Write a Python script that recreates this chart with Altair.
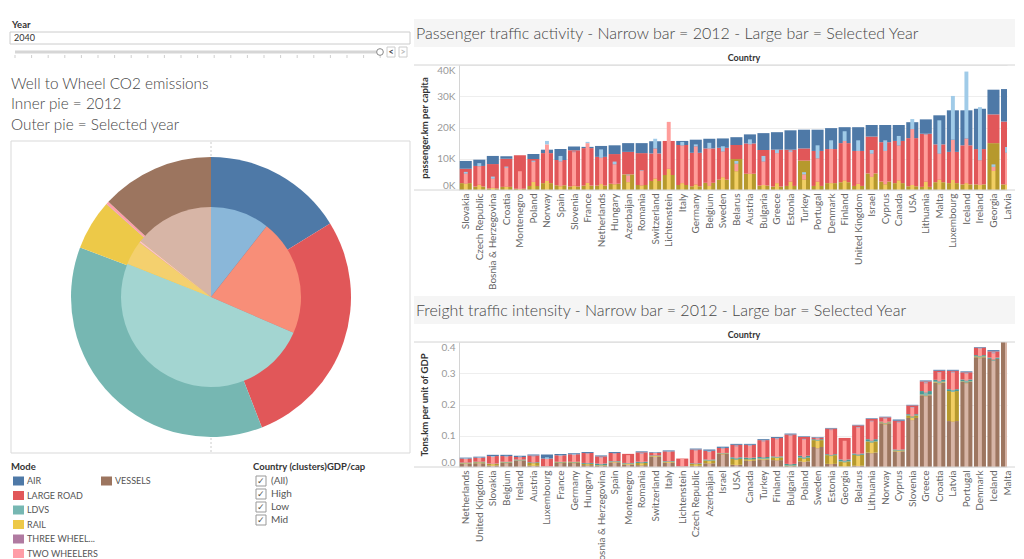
import altair as alt
import pandas as pd

FONT = "Lato"

# ---------------- data ----------------
modes = ["AIR", "LARGE ROAD", "LDVS", "RAIL", "THREE WHEELERS", "TWO WHEELERS", "VESSELS"]
pie_2040 = [16.2, 27.9, 36.7, 5.8, 0.05, 0.3, 13.1]   # % of WTW CO2, selected year
pie_2012 = [10.6, 20.9, 49.5, 4.3, 0.05, 0.3, 14.3]   # % of WTW CO2, 2012

countries_p = ["Slovakia", "Czech Republic", "Bosnia & Herzegovina", "Croatia", "Montenegro", "Poland",
               "Norway", "Spain", "Slovenia", "France", "Netherlands", "Hungary", "Azerbaijan", "Romania",
               "Switzerland", "Lichtenstein", "Italy", "Germany", "Belgium", "Sweden", "Belarus", "Austria",
               "Bulgaria", "Greece", "Estonia", "Turkey", "Portugal", "Denmark", "Finland", "United Kingdom",
               "Israel", "Cyprus", "Canada", "USA", "Lithuania", "Malta", "Luxembourg", "Iceland", "Ireland",
               "Georgia", "Latvia"]
# passenger.km per capita (thousands)
rail_p40 = [2.2, 1.1, 0.5, 1.0, 0.4, 1.3, 2.2, 1.5, 1.1, 1.4, 1.4, 2.0, 5.0, 1.6, 2.9, 4.8, 1.6, 1.2, 2.3, 3.3,
            9.9, 5.2, 1.4, 1.1, 1.3, 9.4, 1.3, 2.2, 2.5, 1.3, 5.3, 2.7, 2.2, 1.2, 1.0, 2.5, 2.2, 1.8, 1.8, 15.0, 1.8]
road_p40 = [4.6, 6.6, 7.8, 9.0, 10.7, 8.6, 9.6, 8.1, 11.6, 12.0, 9.2, 9.5, 7.2, 10.2, 8.8, 10.9, 12.8, 10.7, 11.0, 10.2,
            4.5, 9.7, 11.4, 11.8, 11.6, 3.9, 11.2, 10.9, 12.5, 11.2, 11.8, 12.6, 13.5, 15.4, 17.0, 12.1, 10.0, 12.5, 11.3, 9.2, 20.1]
air_p40 = [2.5, 2.0, 2.6, 0.8, 0.0, 1.6, 1.1, 3.5, 1.2, 0.4, 3.5, 2.8, 2.8, 3.2, 3.9, 0.0, 1.3, 4.2, 3.1, 3.0,
           2.5, 2.9, 5.4, 5.6, 6.2, 6.0, 6.8, 6.7, 5.1, 7.6, 3.7, 5.5, 5.1, 5.1, 4.6, 9.3, 13.3, 11.2, 12.9, 7.9, 10.4]
rail_p12 = [2.0, 1.7, 0.7, 1.1, 0.3, 2.6, 2.9, 1.2, 1.4, 2.3, 1.9, 1.8, 2.5, 1.4, 3.7, 6.8, 2.2, 1.8, 1.3, 4.1,
            6.0, 5.2, 1.6, 2.2, 2.7, 3.3, 2.7, 2.2, 3.1, 2.0, 4.2, 1.8, 3.1, 1.6, 2.7, 3.3, 3.2, 2.2, 1.6, 6.1, 1.8]
road_p12 = [3.2, 5.9, 2.9, 6.0, 5.7, 6.4, 11.7, 7.9, 10.7, 12.7, 8.4, 6.4, 2.2, 4.7, 9.6, 15.0, 12.0, 12.2, 12.0, 8.2,
            2.4, 9.4, 7.5, 9.6, 9.5, 1.7, 7.4, 10.9, 12.6, 10.5, 7.4, 10.7, 11.1, 17.9, 14.9, 8.3, 12.9, 14.3, 7.9, 1.3, 10.1]
air_p12 = [0.6, 1.0, 0.7, 0.4, 0.0, 0.4, 1.1, 1.8, 0.2, 0.4, 2.7, 0.9, 0.2, 0.2, 3.1, 0.0, 1.2, 0.6, 1.8, 1.7,
           0.9, 1.6, 1.8, 1.1, 0.5, 0.7, 4.2, 2.8, 3.1, 3.4, 1.2, 3.4, 3.1, 3.2, 0.2, 10.7, 14.0, 21.4, 17.0, 0.8, 1.9]

countries_f = ["Netherlands", "United Kingdom", "Slovakia", "Belgium", "Ireland", "Austria", "Luxembourg", "France",
               "Germany", "Hungary", "Bosnia & Herzegovina", "Spain", "Montenegro", "Romania", "Switzerland", "Italy",
               "Lichtenstein", "Czech Republic", "Azerbaijan", "Israel", "USA", "Canada", "Turkey", "Finland",
               "Bulgaria", "Poland", "Sweden", "Estonia", "Georgia", "Belarus", "Lithuania", "Norway", "Cyprus",
               "Slovenia", "Greece", "Croatia", "Latvia", "Portugal", "Denmark", "Iceland", "Malta"]
# tons.km per unit of GDP (in thousandths)
ves_f40 = [10, 12, 5, 13, 21, 4, 1, 13, 13, 6, 4, 15, 8, 6, 33, 14, 1, 4, 12, 42, 7, 20, 24, 22, 3, 18, 64, 10, 1, 4,
           46, 140, 50, 157, 230, 270, 147, 272, 351, 346, 520]
rail_f40 = [2, 3, 5, 2, 1, 9, 0, 2, 2, 4, 2, 2, 3, 7, 2, 3, 0, 6, 9, 2, 19, 5, 3, 9, 2, 12, 22, 28, 17, 35,
            36, 3, 3, 8, 2, 3, 96, 2, 3, 0, 0]
ldv_f40 = [2, 2, 1, 2, 2, 2, 1, 2, 2, 3, 5, 2, 2, 4, 2, 2, 1, 2, 3, 1, 5, 5, 5, 3, 5, 6, 3, 3, 6, 4,
           7, 2, 3, 4, 11, 6, 6, 6, 4, 4, 0]
road_f40 = [13, 13, 24, 18, 8, 22, 25, 21, 24, 32, 23, 26, 29, 30, 9, 31, 25, 44, 28, 16, 40, 41, 54, 59, 94, 60, 5, 82, 69, 90,
            65, 14, 92, 28, 31, 29, 59, 23, 24, 20, 0]
air_f40 = [3, 3, 4, 4, 4, 3, 13, 4, 3, 3, 3, 3, 0, 3, 2, 3, 0, 3, 4, 4, 3, 3, 3, 3, 3, 2, 2, 2, 0, 2,
           2, 2, 4, 2, 3, 3, 3, 3, 2, 4, 0]
ves_f12 = [10, 12, 4, 12, 20, 4, 1, 12, 12, 5, 3, 14, 7, 5, 32, 13, 0, 3, 11, 40, 6, 19, 22, 21, 2, 16, 60, 9, 0, 3,
           44, 136, 48, 150, 226, 265, 145, 268, 348, 340, 510]
rail_f12 = [2, 3, 5, 2, 1, 8, 0, 2, 2, 4, 2, 2, 3, 7, 3, 3, 0, 6, 8, 2, 17, 5, 3, 8, 2, 10, 24, 26, 15, 33,
            34, 3, 3, 8, 2, 3, 95, 2, 3, 0, 0]
ldv_f12 = [2, 2, 1, 2, 2, 2, 1, 2, 2, 3, 4, 2, 2, 3, 2, 2, 1, 2, 3, 2, 5, 5, 5, 3, 4, 5, 3, 3, 5, 4,
           6, 2, 3, 4, 10, 6, 6, 6, 4, 4, 0]
road_f12 = [12, 12, 22, 17, 8, 20, 24, 20, 23, 30, 21, 24, 26, 28, 8, 30, 25, 42, 26, 15, 38, 39, 52, 57, 92, 57, 5, 80, 64, 86,
            62, 14, 88, 28, 30, 28, 56, 23, 24, 20, 0]
air_f12 = [2, 2, 3, 3, 3, 2, 5, 3, 3, 2, 2, 2, 0, 2, 2, 2, 0, 2, 3, 3, 3, 3, 3, 3, 2, 2, 2, 2, 0, 2,
           2, 2, 3, 2, 3, 2, 3, 2, 2, 3, 0]

legend_col1 = ["AIR", "LARGE ROAD", "LDVS", "RAIL", "THREE WHEELERS", "TWO WHEELERS"]
legend_labels = {"THREE WHEELERS": "THREE WHEEL..."}
filter_items = ["(All)", "High", "Low", "Mid"]

# ---------------- styles ----------------
pie_outer_col = ["#4e79a7", "#e15759", "#76b7b2", "#edc948", "#b07aa1", "#ff9da7", "#9c755f"]
pie_inner_col = ["#8ab7d9", "#f88e78", "#a3d5d1", "#f4d06e", "#d4a6c8", "#fbc1cf", "#d7b5a6"]
wide_col = {"AIR": "#4e79a7", "LARGE ROAD": "#e15759", "LDVS": "#499894", "RAIL": "#b6992d", "VESSELS": "#9d7660"}
narrow_col = {"AIR": "#a0cbe8", "LARGE ROAD": "#ff9d9a", "LDVS": "#86bcb6", "RAIL": "#f1ce63", "VESSELS": "#d7b5a6"}
TITLE_COL = "#454545"

X = lambda f: alt.X(f, scale=None, axis=None)
Y = lambda f: alt.Y(f, scale=None, axis=None)
one = pd.DataFrame({"a": [0]})


def tlayer(rows, size, color="#555555", weight="normal", align="left"):
    df = pd.DataFrame(rows, columns=["px", "py", "t"])
    return alt.Chart(df).mark_text(align=align, baseline="middle", fontSize=size, color=color,
                                   fontWeight=weight, font=FONT).encode(x=X("px:Q"), y=Y("py:Q"), text="t:N")


def rlayer(rows, fill, stroke=None, sw=1):
    df = pd.DataFrame(rows, columns=["x0", "y0", "x1", "y1"])
    kw = dict(fill=fill)
    if stroke:
        kw.update(stroke=stroke, strokeWidth=sw)
    return alt.Chart(df).mark_rect(**kw).encode(x=X("x0:Q"), x2="x1:Q", y=Y("y0:Q"), y2="y1:Q")


# ---------------- left panel (origin aligned with the passenger plot top) ----------------
cx, cy = 203, 232
pie40 = pd.DataFrame({"mode": modes, "share": pie_2040, "ord": list(range(len(modes)))})
pie12 = pd.DataFrame({"mode": modes, "share": pie_2012, "ord": list(range(len(modes)))})

outer = alt.Chart(pie40).mark_arc(outerRadius=140).encode(
    theta=alt.Theta("share:Q", stack=True), order=alt.Order("ord:Q"),
    color=alt.Color("mode:N", scale=alt.Scale(domain=modes, range=pie_outer_col), legend=None),
    x=alt.value(cx), y=alt.value(cy))
inner = alt.Chart(pie12).mark_arc(outerRadius=90).encode(
    theta=alt.Theta("share:Q", stack=True), order=alt.Order("ord:Q"),
    color=alt.Color("mode:N", scale=alt.Scale(domain=modes, range=pie_inner_col), legend=None),
    x=alt.value(cx), y=alt.value(cy))

panel = rlayer([(3, 76, 402, 388)], "white", "#d9d9d9")
dash = alt.Chart(one).mark_rule(color="#cccccc", strokeDash=[2, 2]).encode(
    x=alt.value(cx), y=alt.value(77), y2=alt.value(388))

year_lbl = tlayer([(4, -40, "Year")], 9.5, "#333333", "bold")
box = rlayer([(2, -33, 402, -21)], "white", "#cccccc")
year_val = tlayer([(6, -27, "2040")], 9, "#333333")
track = alt.Chart(one).mark_rule(color="#d6d6d6", strokeWidth=3).encode(
    x=alt.value(7), x2=alt.value(372), y=alt.value(-13))
tick_df = pd.DataFrame({"px": [7 + 16.6 * i for i in range(23)]})
ticks = alt.Chart(tick_df).mark_rule(color="#cfcfcf").encode(x=X("px:Q"), y=alt.value(-10), y2=alt.value(-7))
knob = alt.Chart(one).mark_point(shape="circle", size=45, filled=True, fill="white", stroke="#888888",
                                 strokeWidth=1, opacity=1).encode(x=alt.value(372), y=alt.value(-13))
btns = rlayer([(379, -18, 387, -8), (391, -18, 399, -8)], "white", "#cccccc")
btn_t1 = tlayer([(383, -13, "<")], 9, "#444444", "bold", "center")
btn_t2 = tlayer([(395, -13, ">")], 9, "#bbbbbb", "bold", "center")

titles = tlayer([(3, 19, "Well to Wheel CO2 emissions"), (3, 39, "Inner pie = 2012"),
                 (3, 60, "Outer pie = Selected year")], 15.3, TITLE_COL, 300)

leg_title = tlayer([(3, 402, "Mode"), (245, 402, "Country (clusters)GDP/cap")], 9.5, "#333333", "bold")
leg_y = [416, 430.5, 445, 459.5, 474, 488.5]
sq_rows = [(5, y - 4.5, 16, y + 4.5, m) for m, y in zip(legend_col1, leg_y)] + [(93, 411.5, 104, 420.5, "VESSELS")]
sq_df = pd.DataFrame(sq_rows, columns=["x0", "y0", "x1", "y1", "mode"])
squares = alt.Chart(sq_df).mark_rect().encode(
    x=X("x0:Q"), x2="x1:Q", y=Y("y0:Q"), y2="y1:Q",
    color=alt.Color("mode:N", scale=alt.Scale(domain=modes, range=pie_outer_col), legend=None))
leg_txt = tlayer([(19, y, legend_labels.get(m, m)) for m, y in zip(legend_col1, leg_y)] + [(107, 416, "VESSELS")],
                 9, "#555555")
cb_y = [416, 429, 442, 455]
cboxes = rlayer([(248, y - 5, 258, y + 5) for y in cb_y], "white", "#999999")
cchecks = tlayer([(253, y, "✓") for y in cb_y], 9, "#555555", "normal", "center")
ctext = tlayer([(263, y, t) for t, y in zip(filter_items, cb_y)], 10, "#555555")

left = alt.layer(
    panel, dash, outer, inner, year_lbl, box, year_val, track, ticks, knob, btns, btn_t1, btn_t2,
    titles, leg_title, squares, leg_txt, cboxes, cchecks, ctext
).resolve_scale(color="independent", theta="independent").properties(width=403, height=495)


# ---------------- right panels ----------------
W, H = 548, 125
XMAX = 40.5


def bar_panel(countries, wide, narrow, order, ydom, yaxis_kw, title, top_bound, bottom_bound):
    rows = []
    for yr, series in (("wide", wide), ("narrow", narrow)):
        for k, m in enumerate(order):
            for i, c in enumerate(countries):
                rows.append(dict(country=c, idx=i, mode=m, ord=k, value=series[m][i], year=yr))
    df = pd.DataFrame(rows)
    names = "[" + ",".join("'" + c + "'" for c in countries) + "]"
    xs = alt.Scale(domain=[0, XMAX], nice=False, zero=False)
    ys = alt.Scale(domain=ydom, nice=False)
    xaxis = alt.Axis(values=[i + 0.5 for i in range(len(countries))], labelExpr=names + "[floor(datum.value)]",
                     labelAngle=270, labelFontSize=10, labelColor="#666666", labelPadding=3, labelLimit=100,
                     labelOverlap=False, labelFlush=False, ticks=False, domain=False, grid=False, title=None,
                     labelFont=FONT)
    yaxis = alt.Axis(grid=True, gridColor="#eeeeee", domainColor="#d4d4d4", ticks=False, labelColor="#999999",
                     labelFontSize=10, labelPadding=4, labelFlush=True, labelFont=FONT, titleFontSize=9.5,
                     titleFontWeight="bold", titleColor="#333333", titleAngle=270, titleX=-35, titleY=H / 2,
                     titleBaseline="middle", titleAlign="center", titleFont=FONT, **yaxis_kw)

    def bars(kind, a, b, cols):
        return alt.Chart(df).transform_filter(f"datum.year == '{kind}'").transform_stack(
            stack="value", groupby=["idx"], sort=[alt.SortField("ord")], as_=["v0", "v1"]
        ).transform_calculate(xa=f"datum.idx + {a}", xb=f"datum.idx + {b}").mark_bar(clip=True).encode(
            x=alt.X("xa:Q", scale=xs, axis=xaxis), x2="xb:Q",
            y=alt.Y("v0:Q", scale=ys, axis=yaxis), y2="v1:Q",
            color=alt.Color("mode:N", scale=alt.Scale(domain=order, range=[cols[m] for m in order]), legend=None))

    band = alt.Chart(one).mark_rect(fill="#f5f5f5").encode(
        x=alt.value(-45), x2=alt.value(W + 8), y=alt.value(-46), y2=alt.value(-18))
    ttl = alt.Chart(one).mark_text(text=title, align="left", baseline="middle", fontSize=16, color=TITLE_COL,
                                   font=FONT, fontWeight=300).encode(x=alt.value(-43), y=alt.value(-31))
    hdr = alt.Chart(one).mark_text(text="Country", align="center", baseline="middle", fontSize=9,
                                   fontWeight="bold", color="#333333", font=FONT).encode(x=alt.value(285), y=alt.value(-7))
    top_line = alt.Chart(one).mark_rule(color="#d4d4d4").encode(x=alt.value(-45), x2=alt.value(W + 8), y=alt.value(0))
    bot_line = alt.Chart(one).mark_rule(color="#d4d4d4").encode(x=alt.value(-45), x2=alt.value(W + 8), y=alt.value(H))
    b1 = alt.Chart(one).mark_rule(color="white").encode(x=alt.value(0), x2=alt.value(1), y=alt.value(top_bound))
    b2 = alt.Chart(one).mark_rule(color="white").encode(x=alt.value(0), x2=alt.value(1), y=alt.value(bottom_bound))
    return alt.layer(
        b1, b2, band, ttl, hdr,
        bars("wide", 0.055, 0.945, wide_col), bars("narrow", 0.355, 0.645, narrow_col),
        top_line, bot_line
    ).resolve_scale(color="independent").properties(width=W, height=H)


p_wide = {"RAIL": rail_p40, "LARGE ROAD": road_p40, "AIR": air_p40}
p_narrow = {"RAIL": rail_p12, "LARGE ROAD": road_p12, "AIR": air_p12}
p_wide = {k: [v * 1000 for v in vals] for k, vals in p_wide.items()}
p_narrow = {k: [v * 1000 for v in vals] for k, vals in p_narrow.items()}
passenger = bar_panel(
    countries_p, p_wide, p_narrow, ["RAIL", "LARGE ROAD", "AIR"], [0, 40000],
    dict(values=[0, 10000, 20000, 30000, 40000], labelExpr="(datum.value/1000) + 'K'",
         title="passenger.km per capita"),
    "Passenger traffic activity  - Narrow bar = 2012 - Large bar = Selected Year", -56, 227)

f_wide = {"VESSELS": ves_f40, "RAIL": rail_f40, "LDVS": ldv_f40, "LARGE ROAD": road_f40, "AIR": air_f40}
f_narrow = {"VESSELS": ves_f12, "RAIL": rail_f12, "LDVS": ldv_f12, "LARGE ROAD": road_f12, "AIR": air_f12}
f_wide = {k: [v / 1000 for v in vals] for k, vals in f_wide.items()}
f_narrow = {k: [v / 1000 for v in vals] for k, vals in f_narrow.items()}
freight = bar_panel(
    countries_f, f_wide, f_narrow, ["VESSELS", "RAIL", "LDVS", "LARGE ROAD", "AIR"], [0, 0.4],
    dict(values=[0, 0.1, 0.2, 0.3, 0.4], format=".1f", title="Tons.km per unit of GDP"),
    "Freight traffic intensity - Narrow bar = 2012 - Large bar = Selected Year", -48, 200)

right = alt.vconcat(passenger, freight, spacing=0)
chart = alt.hconcat(left, right, spacing=2).properties(padding=0, background="white").configure(
    font=FONT).configure_view(stroke=None)

chart.save("out.html", embed_options={"renderer": "svg", "actions": False})
